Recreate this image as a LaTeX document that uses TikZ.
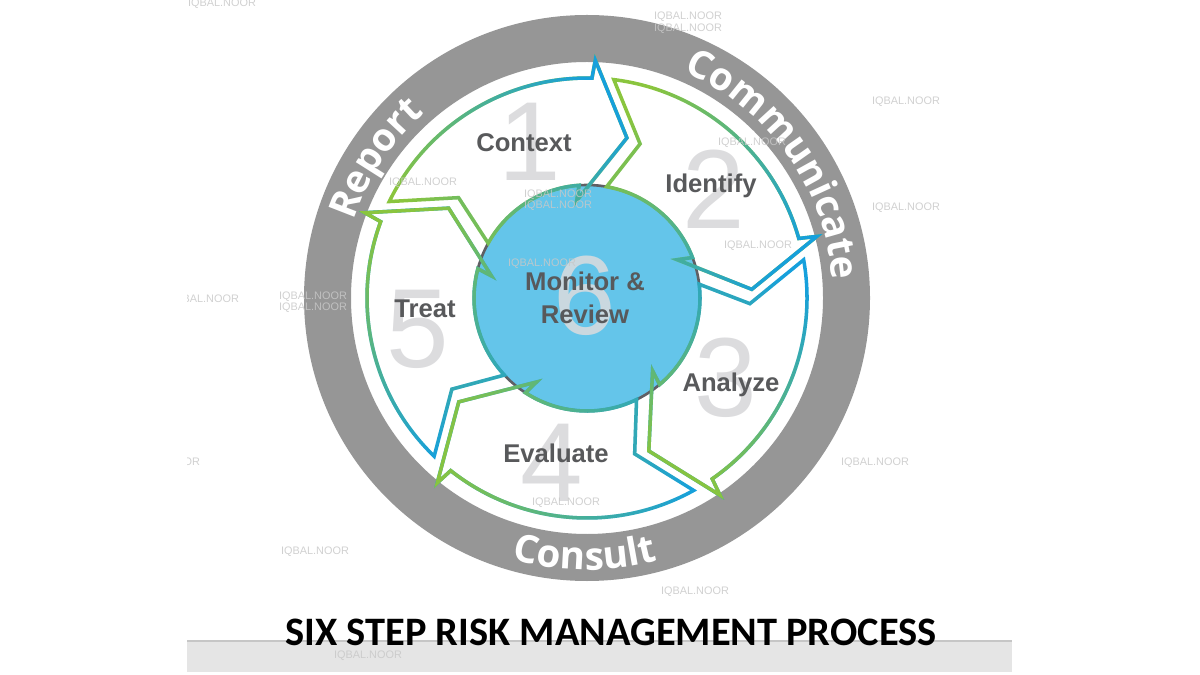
\documentclass[tikz,border=0pt]{standalone}
\usepackage{fontspec}
\setmainfont{Liberation Sans}
\newfontfamily\ringfont{Open Sans}
\newfontfamily\titlefont{Carlito}
\usetikzlibrary{decorations.text,fadings}

\definecolor{ringgray}{RGB}{150,150,150}
\definecolor{diskblue}{RGB}{100,197,234}
\definecolor{diskedge}{RGB}{95,95,100}
\definecolor{arrowgreen}{RGB}{138,197,62}
\definecolor{arrowblue}{RGB}{22,160,220}
\definecolor{labelgray}{RGB}{88,89,91}
\definecolor{numgray}{RGB}{220,220,222}
\definecolor{markgray}{RGB}{200,200,200}
\definecolor{bargray}{RGB}{229,229,229}

\tikzfading[name=fadetohead, left color=transparent!100, right color=transparent!0]

\newcommand{\ringtext}{\ringfont\bfseries\fontsize{22}{22}\selectfont}

% curved chevron: tail angle #1, head angle #2, tail colour #3, head colour #4, direction #5
\newcommand{\stepchevron}[5]{
  \draw[chevron, #3] ({#1-5}:220) arc[start angle={#1-5}, end angle={#2+0.7}, radius=220]
    -- ({#2}:238) -- ({#2-12}:165) -- ({#2+8}:98) -- ({#2+6}:113)
    arc[start angle={#2+6}, end angle={#1-8}, radius=113] -- ({#1-17}:163) -- cycle;
  \draw[chevron, #4, path fading=fadetohead, fading angle=#5] ({#1-5}:220) arc[start angle={#1-5}, end angle={#2+0.7}, radius=220]
    -- ({#2}:238) -- ({#2-12}:165) -- ({#2+8}:98) -- ({#2+6}:113)
    arc[start angle={#2+6}, end angle={#1-8}, radius=113] -- ({#1-17}:163) -- cycle;
}

\begin{document}
\begin{tikzpicture}[x=0.02cm, y=-0.02cm]
    % styles
    \tikzstyle{chevron} = [line width=2pt, line join=miter, miter limit=4]
    \tikzstyle{stepname} = [font=\fontsize{14.6}{18.7}\selectfont\bfseries, text=labelgray, anchor=base, inner sep=0pt]
    \tikzstyle{bignum} = [font=\fontsize{64}{64}\selectfont, text=numgray, inner sep=0pt]
    \tikzstyle{ringword} = [decorate, decoration={text along path, text align=center, text color=white}]
    \tikzstyle{wmark} = [font=\fontsize{6.2}{6.2}\selectfont, text=markgray, opacity=0.85, inner sep=0pt]

    \useasboundingbox (0,0) rectangle (1200,675);

    % outer ring, centre disc and the five steps
    \begin{scope}[shift={(587,298)}, y=0.02cm]
        \fill[ringgray, even odd rule] (0,0) circle[radius=283] (0,0) circle[radius=236];
        \path[ringword, decoration={text={|\ringtext|Report}}] (190:246) arc[start angle=190, end angle=103, radius=246];
        \path[ringword, decoration={text={|\ringtext|Communicate}}] (100:246) arc[start angle=100, end angle=-29, radius=246];
        \path[ringword, decoration={text={|\ringtext|Consult}}] (-150:272) arc[start angle=-150, end angle=-31, radius=272];

        \fill[diskblue] (0,0) circle[radius=113];
        \draw[diskedge, line width=1.5pt] (0,0) circle[radius=113];

        \stepchevron{159}{88}{arrowgreen}{arrowblue}{33.5}
        \stepchevron{88}{15}{arrowgreen}{arrowblue}{-38.5}
        \stepchevron{15}{-56}{arrowblue}{arrowgreen}{-110.5}
        \stepchevron{-56}{-129}{arrowblue}{arrowgreen}{177.5}
        \stepchevron{-129}{-201}{arrowblue}{arrowgreen}{105}
    \end{scope}

    % step numbers
    \node[bignum] (num1) at (530,142) {1};
    \node[bignum] (num2) at (714,189) {2};
    \node[bignum] (num3) at (726,378) {3};
    \node[bignum] (num4) at (552,463) {4};
    \node[bignum] (num5) at (418,329) {5};
    \node[bignum, opacity=0.85] (num6) at (585,296) {6};

    % step names
    \node[stepname] (context) at (524,152) {Context};
    \node[stepname] (identify) at (711,193) {Identify};
    \node[stepname] (analyze) at (731,392) {Analyze};
    \node[stepname] (evaluate) at (556,462) {Evaluate};
    \node[stepname] (treat) at (425,318) {Treat};
    \node[stepname, anchor=center, align=center] (monitor) at (585,298) {Monitor \&\\Review};

    % title bar
    \fill[bargray] (187,641) rectangle (1012,672);
    \draw[gray!45, line width=0.6pt] (187,641) -- (1012,641);
    \node[anchor=base, inner sep=0pt, font=\titlefont\bfseries\fontsize{23}{23}\selectfont] (title) at (611,645) {SIX STEP RISK MANAGEMENT PROCESS};

    % watermarks
    \begin{scope}
        \clip (187,0) rectangle (1012,675);
        \node[wmark] (wm1) at (222,4) {IQBAL.NOOR};
        \node[wmark] (wm2) at (688,17) {IQBAL.NOOR};
        \node[wmark] (wm3) at (688,29) {IQBAL.NOOR};
        \node[wmark] (wm4) at (906,102) {IQBAL.NOOR};
        \node[wmark] (wm5) at (752,143) {IQBAL.NOOR};
        \node[wmark] (wm6) at (906,208) {IQBAL.NOOR};
        \node[wmark] (wm7) at (758,246) {IQBAL.NOOR};
        \node[wmark] (wm8) at (423,183) {IQBAL.NOOR};
        \node[wmark] (wm9) at (558,195) {IQBAL.NOOR};
        \node[wmark] (wm10) at (558,206) {IQBAL.NOOR};
        \node[wmark] (wm11) at (542,264) {IQBAL.NOOR};
        \node[wmark] (wm12) at (205,300) {IQBAL.NOOR};
        \node[wmark] (wm13) at (313,297) {IQBAL.NOOR};
        \node[wmark] (wm14) at (313,308) {IQBAL.NOOR};
        \node[wmark] (wm15) at (166,463) {IQBAL.NOOR};
        \node[wmark] (wm16) at (875,463) {IQBAL.NOOR};
        \node[wmark] (wm17) at (315,552) {IQBAL.NOOR};
        \node[wmark] (wm18) at (566,503) {IQBAL.NOOR};
        \node[wmark] (wm19) at (695,592) {IQBAL.NOOR};
        \node[wmark] (wm20) at (368,656) {IQBAL.NOOR};
    \end{scope}
\end{tikzpicture}
\end{document}
